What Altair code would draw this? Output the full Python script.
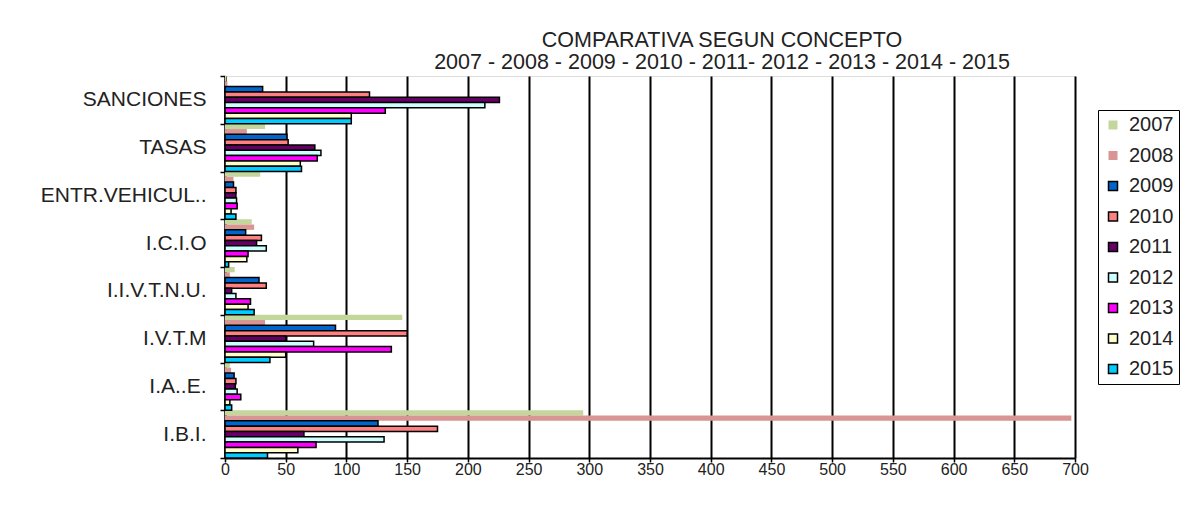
import altair as alt
import pandas as pd

categories = ["SANCIONES", "TASAS", "ENTR.VEHICUL..", "I.C.I.O", "I.I.V.T.N.U.",
              "I.V.T.M", "I.A..E.", "I.B.I."]
years = ["2007", "2008", "2009", "2010", "2011", "2012", "2013", "2014", "2015"]

v2007 = [1, 33, 29, 22, 8, 146, 4, 295]
v2008 = [2, 18, 7, 24, 4, 33, 5, 697]
v2009 = [31, 51, 7, 17, 28, 91, 7.5, 126]
v2010 = [119, 52, 9, 30, 34, 150, 9, 175]
v2011 = [226, 74, 9, 26, 5.5, 50, 8.5, 65]
v2012 = [214, 79, 9.5, 34, 9, 73, 10, 131]
v2013 = [132, 76, 10, 19, 21, 137, 13, 75]
v2014 = [104, 62, 5, 18, 19, 50, 4, 60]
v2015 = [104, 63, 9, 3, 24, 37, 5.5, 35]

colors = ["#c3d69b", "#d99594", "#0066cc", "#ff8080", "#660066",
          "#ccffff", "#ff00ff", "#ffffcc", "#00ccff"]
strokes = ["transparent", "transparent"] + ["black"] * 7

series = [v2007, v2008, v2009, v2010, v2011, v2012, v2013, v2014, v2015]
rows = []
for y, vals in zip(years, series):
    for c, v in zip(categories, vals):
        rows.append({"concepto": c, "year": y, "valor": v})
df = pd.DataFrame(rows)

FONT = "Liberation Sans"

chart = alt.Chart(df).mark_bar(strokeWidth=1.5).encode(
    y=alt.Y("concepto:N", sort=categories,
            scale=alt.Scale(paddingInner=0, paddingOuter=0),
            axis=alt.Axis(title=None, tickBand="extent", labelFontSize=21,
                          labelFont=FONT, labelColor="#222222", labelPadding=14,
                          tickSize=5, tickColor="black", tickWidth=1.5,
                          domainColor="black", domainWidth=2, grid=False)),
    yOffset=alt.YOffset("year:N", sort=years,
                        scale=alt.Scale(paddingInner=0, paddingOuter=0)),
    x=alt.X("valor:Q", scale=alt.Scale(domain=[0, 700], nice=False),
            axis=alt.Axis(title=None, values=list(range(0, 701, 50)),
                          labelFontSize=16, labelFont=FONT, labelColor="#222222",
                          labelFlush=False,
                          tickSize=4, tickColor="black", tickWidth=1.5,
                          domainColor="black", domainWidth=2,
                          grid=True, gridColor="black", gridWidth=2,
                          labelPadding=-1)),
    color=alt.Color("year:N", sort=years,
                    scale=alt.Scale(domain=years, range=colors),
                    legend=alt.Legend(title=None, orient="none",
                                      legendX=873, legendY=34,
                                      symbolType="square", symbolSize=81,
                                      symbolStrokeWidth=1.5,
                                      labelFontSize=20, labelFont=FONT,
                                      labelColor="#222222",
                                      rowPadding=10.5, padding=5,
                                      strokeColor="black",
                                      labelOffset=6)),
    stroke=alt.Stroke("year:N", sort=years,
                      scale=alt.Scale(domain=years, range=strokes)),
).properties(
    width=850, height=382,
    padding={"left": 217, "top": 68, "right": 105, "bottom": 65},
    autosize=alt.AutoSizeParams(type="none"),
    title=alt.TitleParams(
        text=["COMPARATIVA SEGUN CONCEPTO",
              "2007 - 2008 - 2009 - 2010 - 2011- 2012 - 2013 - 2014 - 2015"],
        fontSize=21.5, font=FONT, fontWeight="normal", color="#222222",
        lineHeight=22, anchor="middle", dx=72, dy=12, offset=4),
).configure_view(stroke=None).configure(background="white")

chart.save("out.html", embed_options={"renderer": "svg", "actions": False})
